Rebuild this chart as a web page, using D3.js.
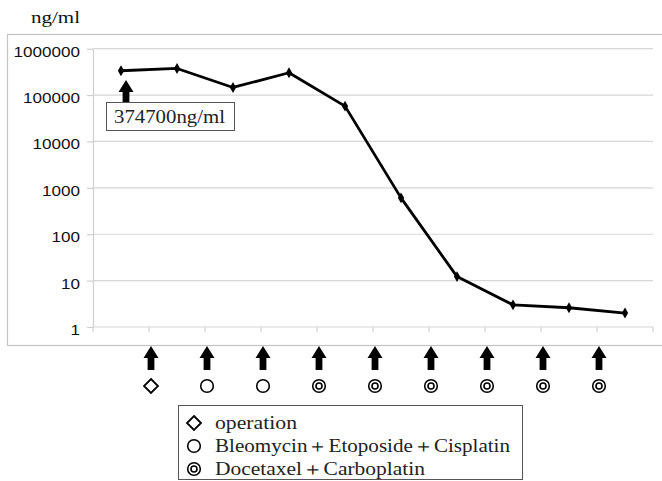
<!DOCTYPE html>
<html>
<head>
<meta charset="utf-8">
<script src="https://cdn.jsdelivr.net/npm/d3@7"></script>
<style>
  body { margin: 0; background: #fff; }
  svg { display: block; }
  .tick text { font-family: "Liberation Sans", Arial, sans-serif; font-size: 15.5px; fill: #111; }
</style>
</head>
<body>
<svg width="662" height="481"></svg>
<script>
// measurement points (one per visit)
const visits = ['1', '2', '3', '4', '5', '6', '7', '8', '9', '10'];
const marker = [335000, 375000, 146000, 303000, 57800, 608, 12.2, 3.0, 2.6, 2.0];
const yTicks = [1, 10, 100, 1000, 10000, 100000, 1000000];

// treatment given between visits (arrow i sits between visit i and i+1)
const courses = ['operation', 'BEP', 'BEP', 'DC', 'DC', 'DC', 'DC', 'DC', 'DC'];
const legendKeys = ['operation', 'BEP', 'DC'];
const legendLabels = ['operation', 'Bleomycin＋Etoposide＋Cisplatin', 'Docetaxel＋Carboplatin'];

const unitLabel = 'ng/ml';
const peakLabel = '374700ng/ml';

const serif = '"Liberation Serif", "Times New Roman", Times, serif';

const svg = d3.select('svg');

const plot = { left: 93, right: 653, top: 48.7, bottom: 327 };

// outer chart frame
svg.append('rect')
    .attr('x', 7.5)
    .attr('y', 34.5)
    .attr('width', 700)
    .attr('height', 311)
    .attr('fill', 'none')
    .attr('stroke', '#c4c4c4')
    .attr('stroke-width', 1.2);

const xScale = d3.scaleBand()
    .domain(visits)
    .range([plot.left, plot.right])
    .padding(0);

const yScale = d3.scaleLog()
    .domain([1, 1000000])
    .range([plot.bottom, plot.top]);

const cx = (v) => xScale(v) + xScale.bandwidth() / 2;

// horizontal grid lines
svg.append('g')
    .attr('class', 'grid')
    .selectAll('line')
    .data(yTicks)
    .enter()
    .append('line')
    .attr('x1', plot.left)
    .attr('x2', plot.right)
    .attr('y1', (d) => yScale(d))
    .attr('y2', (d) => yScale(d))
    .attr('stroke', '#d6d6d6')
    .attr('stroke-width', 1.2);

// y axis
const yAxis = svg.append('g')
    .attr('transform', `translate(${plot.left}, 0)`)
    .call(d3.axisLeft(yScale)
        .tickValues(yTicks)
        .tickFormat(d3.format('d'))
        .tickSize(6)
        .tickSizeOuter(0)
        .tickPadding(7));

yAxis.select('.domain').attr('stroke', '#cfcfcf').attr('stroke-width', 1.2);
yAxis.selectAll('.tick line').attr('stroke', '#cfcfcf').attr('stroke-width', 1.2);
yAxis.selectAll('.tick text')
    .attr('dy', '0.48em')
    .attr('textLength', (d) => String(d).length * 9.5)
    .attr('lengthAdjust', 'spacingAndGlyphs');

// x axis ticks sit on the boundaries between visits
const boundaries = visits.map((v) => xScale(v)).concat([plot.right]);
svg.append('g')
    .selectAll('line')
    .data(boundaries)
    .enter()
    .append('line')
    .attr('x1', (d) => d)
    .attr('x2', (d) => d)
    .attr('y1', plot.bottom)
    .attr('y2', plot.bottom + 5)
    .attr('stroke', '#cfcfcf')
    .attr('stroke-width', 1.2);

// data line
const line = d3.line()
    .x((d, i) => cx(visits[i]))
    .y((d) => yScale(d));

svg.append('path')
    .datum(marker)
    .attr('d', line)
    .attr('fill', 'none')
    .attr('stroke', '#000')
    .attr('stroke-width', 2.8)
    .attr('stroke-linejoin', 'round');

svg.append('g')
    .selectAll('path')
    .data(marker)
    .enter()
    .append('path')
    .attr('transform', (d, i) => `translate(${cx(visits[i])}, ${yScale(d)})`)
    .attr('d', d3.symbol().type(d3.symbolDiamond).size(34))
    .attr('fill', '#000');

// block arrow pointing up, tip at (x, y)
function upArrow(g, x, y, len) {
    const hw = 7.5, sw = 3.4, hh = 12;
    g.append('path')
        .attr('d', `M${x},${y} L${x + hw},${y + hh} L${x + sw},${y + hh} L${x + sw},${y + len}` +
            ` L${x - sw},${y + len} L${x - sw},${y + hh} L${x - hw},${y + hh} Z`)
        .attr('fill', '#000');
}

function courseSymbol(g, key, x, y) {
    if (key === 'operation') {
        const s = 7;
        g.append('path')
            .attr('d', `M${x},${y - s} L${x + s},${y} L${x},${y + s} L${x - s},${y} Z`)
            .attr('fill', 'none')
            .attr('stroke', '#000')
            .attr('stroke-width', 1.8);
    } else {
        g.append('circle')
            .attr('cx', x).attr('cy', y).attr('r', 6.3)
            .attr('fill', 'none').attr('stroke', '#000').attr('stroke-width', 1.6);
        if (key === 'DC') {
            g.append('circle')
                .attr('cx', x).attr('cy', y).attr('r', 3)
                .attr('fill', 'none').attr('stroke', '#000').attr('stroke-width', 1.6);
        }
    }
}

// treatment arrows and symbols below the axis
const courseG = svg.append('g');
courses.forEach((c, i) => {
    const x = xScale(visits[i + 1]) + 2;
    upArrow(courseG, x, 346, 24);
    courseSymbol(courseG, c, x, 386);
});

// peak annotation
const annoX = cx(visits[0]) + 5;
upArrow(svg, annoX, 80, 24);
svg.append('rect')
    .attr('x', 106.5)
    .attr('y', 102.5)
    .attr('width', 128)
    .attr('height', 28)
    .attr('fill', '#fff')
    .attr('stroke', '#555')
    .attr('stroke-width', 1);
svg.append('text')
    .attr('font-family', serif)
    .attr('fill', '#222')
    .attr('x', 114)
    .attr('y', 123)
    .attr('font-size', 18)
    .attr('textLength', 111)
    .attr('lengthAdjust', 'spacingAndGlyphs')
    .text(peakLabel);

// unit label
svg.append('text')
    .attr('font-family', serif)
    .attr('fill', '#111')
    .attr('x', 31)
    .attr('y', 23)
    .attr('font-size', 17)
    .attr('textLength', 49)
    .attr('lengthAdjust', 'spacingAndGlyphs')
    .text(unitLabel);

// legend
const legend = svg.append('g');
legend.append('rect')
    .attr('x', 178.5)
    .attr('y', 405.5)
    .attr('width', 344)
    .attr('height', 74)
    .attr('fill', '#fff')
    .attr('stroke', '#555')
    .attr('stroke-width', 1);

const labelWidths = [82, 295, 210];
legendKeys.forEach((k, i) => {
    const y = 423 + i * 23;
    courseSymbol(legend, k, 194, y);
    legend.append('text')
        .attr('font-family', serif)
        .attr('fill', '#222')
        .attr('x', 215)
        .attr('y', y + 6)
        .attr('font-size', 18)
        .attr('textLength', labelWidths[i])
        .attr('lengthAdjust', 'spacingAndGlyphs')
        .text(legendLabels[i]);
});
</script>
</body>
</html>
